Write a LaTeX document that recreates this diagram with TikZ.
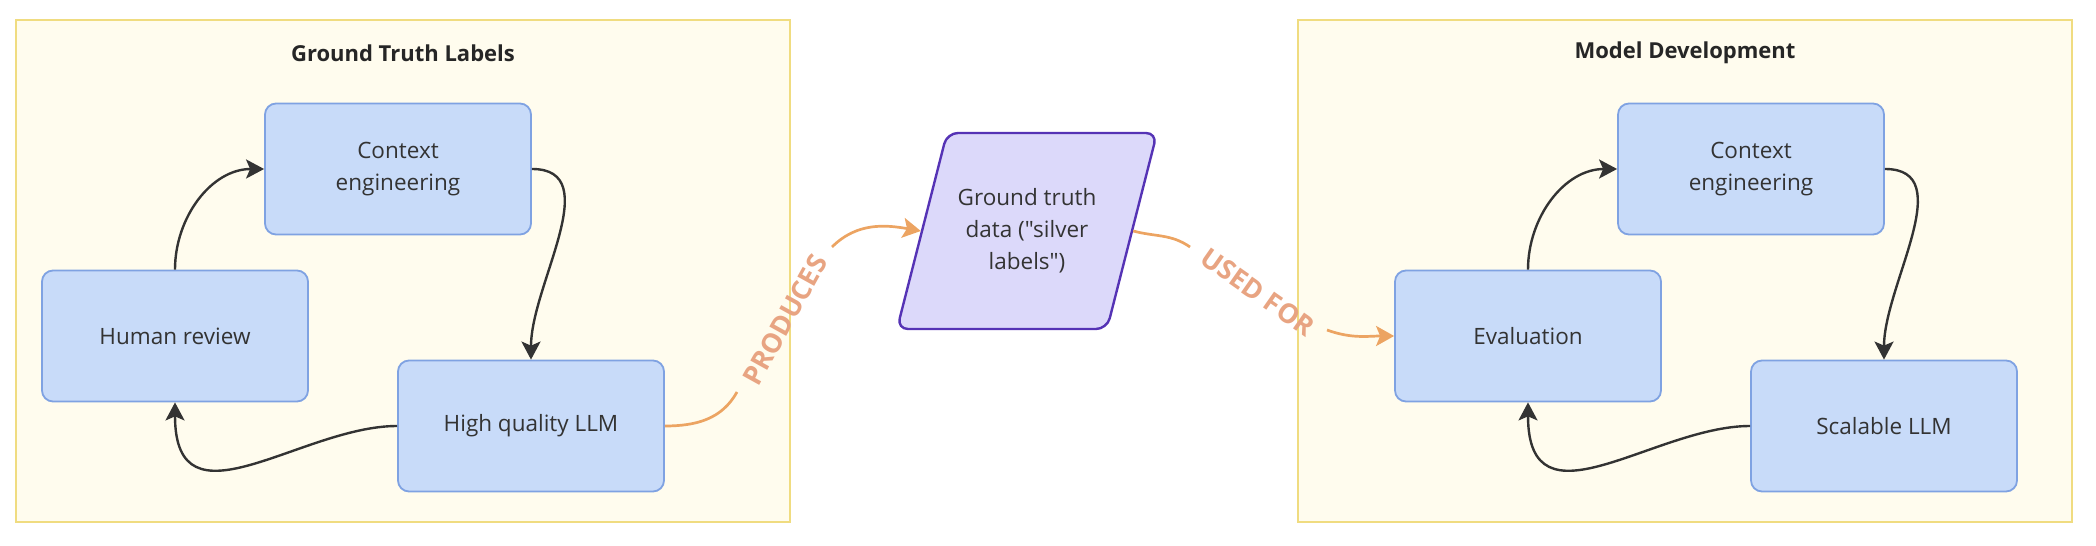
\documentclass[tikz,border=0pt]{standalone}
\usepackage{fontspec}
\setmainfont{Open Sans}
\newfontfamily\plainfont{Open Sans}
\usetikzlibrary{arrows.meta}
\definecolor{boxfill}{HTML}{C8DBF9}
\definecolor{boxline}{HTML}{7FA2E2}
\definecolor{datafill}{HTML}{DCD9FA}
\definecolor{dataline}{HTML}{5533B5}
\definecolor{groupfill}{HTML}{FFFCEE}
\definecolor{groupline}{HTML}{F0DC80}
\definecolor{flowline}{HTML}{ECA462}
\definecolor{flowtext}{HTML}{E8A482}
\definecolor{inktext}{HTML}{333333}
\tikzstyle{group}=[rectangle,draw=groupline,fill=groupfill,line width=2.5pt,minimum width=774pt,minimum height=502pt,inner sep=0pt]
\tikzstyle{grouptitle}=[font=\bfseries\fontsize{22}{26}\selectfont,text=black!85]
\tikzstyle{stepbox}=[rectangle,rounded corners=11pt,draw=boxline,fill=boxfill,line width=1.8pt,minimum width=266pt,minimum height=131pt,align=center,text=inktext,font=\fontsize{22.5}{32}\selectfont]
\tikzstyle{dataframe}=[rounded corners=11pt,draw=dataline,fill=datafill,line width=2.4pt]
\tikzstyle{databox}=[rectangle,minimum width=212pt,minimum height=196pt,align=center,text=inktext,font=\plainfont\fontsize{22.5}{32}\selectfont]
\tikzstyle{loopedge}=[draw=inktext,line width=2.4pt,-{Stealth[length=18pt,width=19pt,inset=4pt]}]
\tikzstyle{flowedge}=[draw=flowline,line width=2.7pt]
\tikzstyle{flowlabel}=[font=\bfseries\fontsize{27}{32}\selectfont,text=flowtext,inner sep=0pt]

\begin{document}
\begin{tikzpicture}[x=1pt,y=1pt]
    \useasboundingbox (0,0) rectangle (2096,546);
    % groups
    \node[group] (groupL) at (403,275) {};
    \node[group] (groupR) at (1685,275) {};
    \node[grouptitle] (titleL) at (403,493) {Ground Truth Labels};
    \node[grouptitle] (titleR) at (1685,493) {Model Development};

    % left loop
    \node[stepbox] (ctxL)   at (398,377) {Context\\engineering};
    \node[stepbox] (humanL) at (175,210) {Human review};
    \node[stepbox] (hqL)    at (531,120) {High quality LLM};

    % right loop
    \node[stepbox] (ctxR)   at (1751,377) {Context\\engineering};
    \node[stepbox] (evalR)  at (1528,210) {Evaluation};
    \node[stepbox] (scalR)  at (1884,120) {Scalable LLM};

    % shared data (slanted box)
    \draw[dataframe] (897,217) -- (947,413) -- (1157,413) -- (1107,217) -- cycle;
    \node[databox] (silver) at (1027,315) {Ground truth\\data ("silver\\labels")};

    \foreach \from/\to/\o/\i/\lo/\li in {humanL.north/ctxL.west/90/180/1/1,
        ctxL.east/hqL.north/0/90/1/1, hqL.west/humanL.south/180/270/1.1/1.5,
        evalR.north/ctxR.west/90/180/1/1, ctxR.east/scalR.north/0/90/1/1,
        scalR.west/evalR.south/180/270/1.1/1.5}
    \draw[loopedge] (\from) to[out=\o,in=\i,out looseness=\lo,in looseness=\li] (\to);

    % labelled links
    \coordinate (prodA) at (737,154);
    \coordinate (prodB) at (832,299);
    \node[flowlabel,rotate=61] (prodT) at (785,226) {PRODUCES};
    \draw[flowedge] (hqL.east) to[out=0,in=241] (prodA);
    \draw[flowedge,-{Stealth[length=18pt,width=20pt,inset=4pt]}] (prodB) to[out=45,in=170] (silver.west);

    \coordinate (usedA) at (1190,299);
    \coordinate (usedB) at (1327,216);
    \node[flowlabel,rotate=-35] (usedT) at (1258,254) {USED FOR};
    \draw[flowedge] (silver.east) to[out=-15,in=145] (usedA);
    \draw[flowedge,-{Stealth[length=18pt,width=20pt,inset=4pt]}] (usedB) to[out=-20,in=180] (evalR.west);
\end{tikzpicture}
\end{document}
